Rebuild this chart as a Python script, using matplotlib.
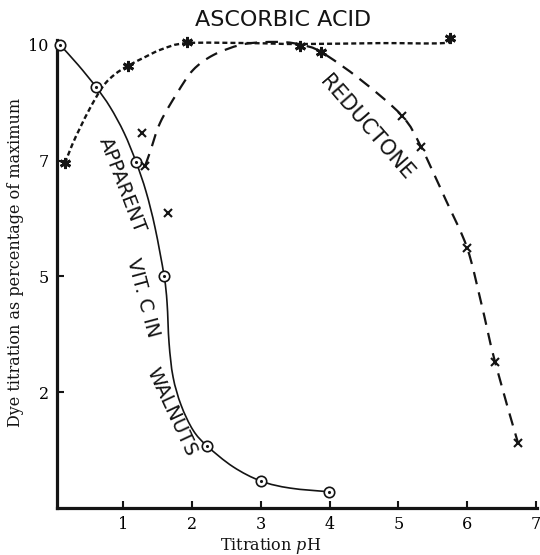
import matplotlib
matplotlib.use("Agg")
import matplotlib.pyplot as plt
from matplotlib.path import Path
from matplotlib.patches import PathPatch

plt.rcParams['mathtext.fontset'] = 'dejavuserif'
plt.rcParams['lines.scale_dashes'] = False

# Apparent vit. C in walnuts: measured points (open circles)
walnut_ph = [0.085, 0.608, 1.189, 1.596, 2.220, 3.005, 3.993]
walnut_val = [10.0, 9.09, 7.47, 5.01, 1.34, 0.58, 0.35]
# hand-drawn curve through them
walnut_curve_ph = [0.085, 0.346, 0.608, 0.811, 1.015, 1.189, 1.334, 1.465,
                   1.596, 1.639, 1.668, 1.726, 1.843, 2.017, 2.220, 2.598,
                   3.005, 3.426, 3.993]
walnut_curve_val = [10.0, 9.57, 9.09, 8.66, 8.10, 7.47, 6.83, 6.05,
                    5.01, 4.43, 3.56, 2.83, 2.22, 1.68, 1.34, 0.89,
                    0.58, 0.43, 0.35]

# Ascorbic acid (asterisks)
ascorbic_ph = [0.157, 1.073, 1.930, 3.572, 5.751]
ascorbic_val = [7.45, 9.55, 10.06, 9.98, 10.15]
ascorbic_curve_ph = [0.157, 0.259, 0.375, 0.521, 0.709, 0.884, 1.073, 1.320,
                     1.567, 1.930, 2.845, 3.572, 4.734, 5.649, 5.751]
ascorbic_curve_val = [7.45, 7.84, 8.21, 8.64, 9.11, 9.37, 9.55, 9.74,
                      9.91, 10.04, 10.04, 10.02, 10.04, 10.04, 10.15]

# Reductone (crosses)
reductone_ph = [1.276, 1.320, 1.654, 5.053, 5.329, 5.998, 6.405, 6.739]
reductone_val = [8.10, 7.39, 6.37, 8.47, 7.80, 5.62, 3.15, 1.40]
reductone_star_ph = [3.877]
reductone_star_val = [9.85]
reductone_curve_ph = [1.320, 1.392, 1.538, 1.785, 2.017, 2.308, 2.700, 3.034,
                      3.354, 3.601, 3.877, 4.45, 5.053, 5.329, 5.69, 5.998,
                      6.20, 6.405, 6.739]
reductone_curve_val = [7.39, 7.69, 8.32, 8.96, 9.46, 9.78, 10.0, 10.06,
                       10.06, 10.0, 9.85, 9.25, 8.47, 7.80, 6.65, 5.62,
                       4.45, 3.15, 1.40]

x_ticks = [1, 2, 3, 4, 5, 6, 7]
y_ticks = [2.5, 5, 7.5, 10]
y_tick_labels = ['2', '5', '7', '10']

ink = '#141414'
asterisk = (6, 2, 0)


def smooth_curve(ax, xs, ys, **kw):
    # draw the traced points as a smooth Bezier path (Catmull-Rom style)
    pts = list(zip(xs, ys))
    n = len(pts)
    verts = [pts[0]]
    codes = [Path.MOVETO]
    for i in range(n - 1):
        p0 = pts[max(i - 1, 0)]
        p1 = pts[i]
        p2 = pts[i + 1]
        p3 = pts[min(i + 2, n - 1)]
        c1 = (p1[0] + (p2[0] - p0[0]) / 6, p1[1] + (p2[1] - p0[1]) / 6)
        c2 = (p2[0] - (p3[0] - p1[0]) / 6, p2[1] - (p3[1] - p1[1]) / 6)
        verts += [c1, c2, p2]
        codes += [Path.CURVE4] * 3
    ax.add_patch(PathPatch(Path(verts, codes), fill=False, **kw))


fig = plt.figure(figsize=(5.4, 5.55), dpi=100)
ax = fig.add_axes([0.1056, 0.0847, 0.8896, 0.8593])

# curves
smooth_curve(ax, walnut_curve_ph, walnut_curve_val, edgecolor=ink, lw=1.2,
             zorder=2)
smooth_curve(ax, ascorbic_curve_ph, ascorbic_curve_val, edgecolor=ink,
             lw=1.7, linestyle=(0, (3.6, 2.2)), zorder=2)
smooth_curve(ax, reductone_curve_ph, reductone_curve_val, edgecolor=ink,
             lw=1.6, linestyle=(0, (9, 6)), zorder=2)

# markers
ax.plot(walnut_ph, walnut_val, 'o', ms=7.5, mfc='white', mec=ink, mew=1.2,
        zorder=4, clip_on=False)
ax.plot(walnut_ph, walnut_val, '.', ms=2.5, color=ink, zorder=5,
        clip_on=False)
ax.plot(ascorbic_ph, ascorbic_val, linestyle='none', marker=asterisk, ms=8,
        mec=ink, mew=2.0, zorder=4, clip_on=False)
ax.plot(reductone_ph, reductone_val, 'x', ms=6, mec=ink, mew=1.5, zorder=4)
ax.plot(reductone_star_ph, reductone_star_val, linestyle='none',
        marker=asterisk, ms=8, mec=ink, mew=2.0, zorder=4)

# hand-lettered curve labels
lett = dict(family='DejaVu Sans', color=ink, ha='center', va='center',
            rotation_mode='anchor')
ax.text(3.32, 10.54, 'ASCORBIC ACID', fontsize=16, clip_on=False, **lett)
ax.text(4.54, 8.21, 'REDUCTONE', fontsize=15, rotation=-49, **lett)
ax.text(0.985, 6.98, 'APPARENT', fontsize=14, rotation=-69, **lett)
ax.text(1.29, 4.54, 'VIT. C IN', fontsize=14, rotation=-75, **lett)
ax.text(1.70, 2.07, 'WALNUTS', fontsize=14, rotation=-65, **lett)

ax.set_xlim(0.04, 7.02)
ax.set_ylim(0, 10.3)
ax.set_xticks(x_ticks)
ax.set_xticklabels([str(t) for t in x_ticks])
ax.set_yticks(y_ticks)
ax.set_yticklabels(y_tick_labels)
ax.tick_params(direction='in', length=5, width=1.5, color=ink,
               labelsize=11.5, pad=6)
for lab in ax.get_xticklabels() + ax.get_yticklabels():
    lab.set_family('DejaVu Serif')

for side in ['top', 'right']:
    ax.spines[side].set_visible(False)
for side in ['left', 'bottom']:
    ax.spines[side].set_linewidth(2.3)
    ax.spines[side].set_color(ink)
ax.spines['left'].set_bounds(0, 10.1)

fig.text(16 / 540, 1 - 262 / 555, 'Dye titration as percentage of maximum',
         rotation=90, ha='center', va='center', family='DejaVu Serif',
         fontsize=11.5, color=ink)
fig.text(271 / 540, 1 - 546 / 555, 'Titration $\\it{p}$H', ha='center',
         va='center', family='DejaVu Serif', fontsize=11.5, color=ink)

fig.savefig('out.png', dpi=100, facecolor='white')
